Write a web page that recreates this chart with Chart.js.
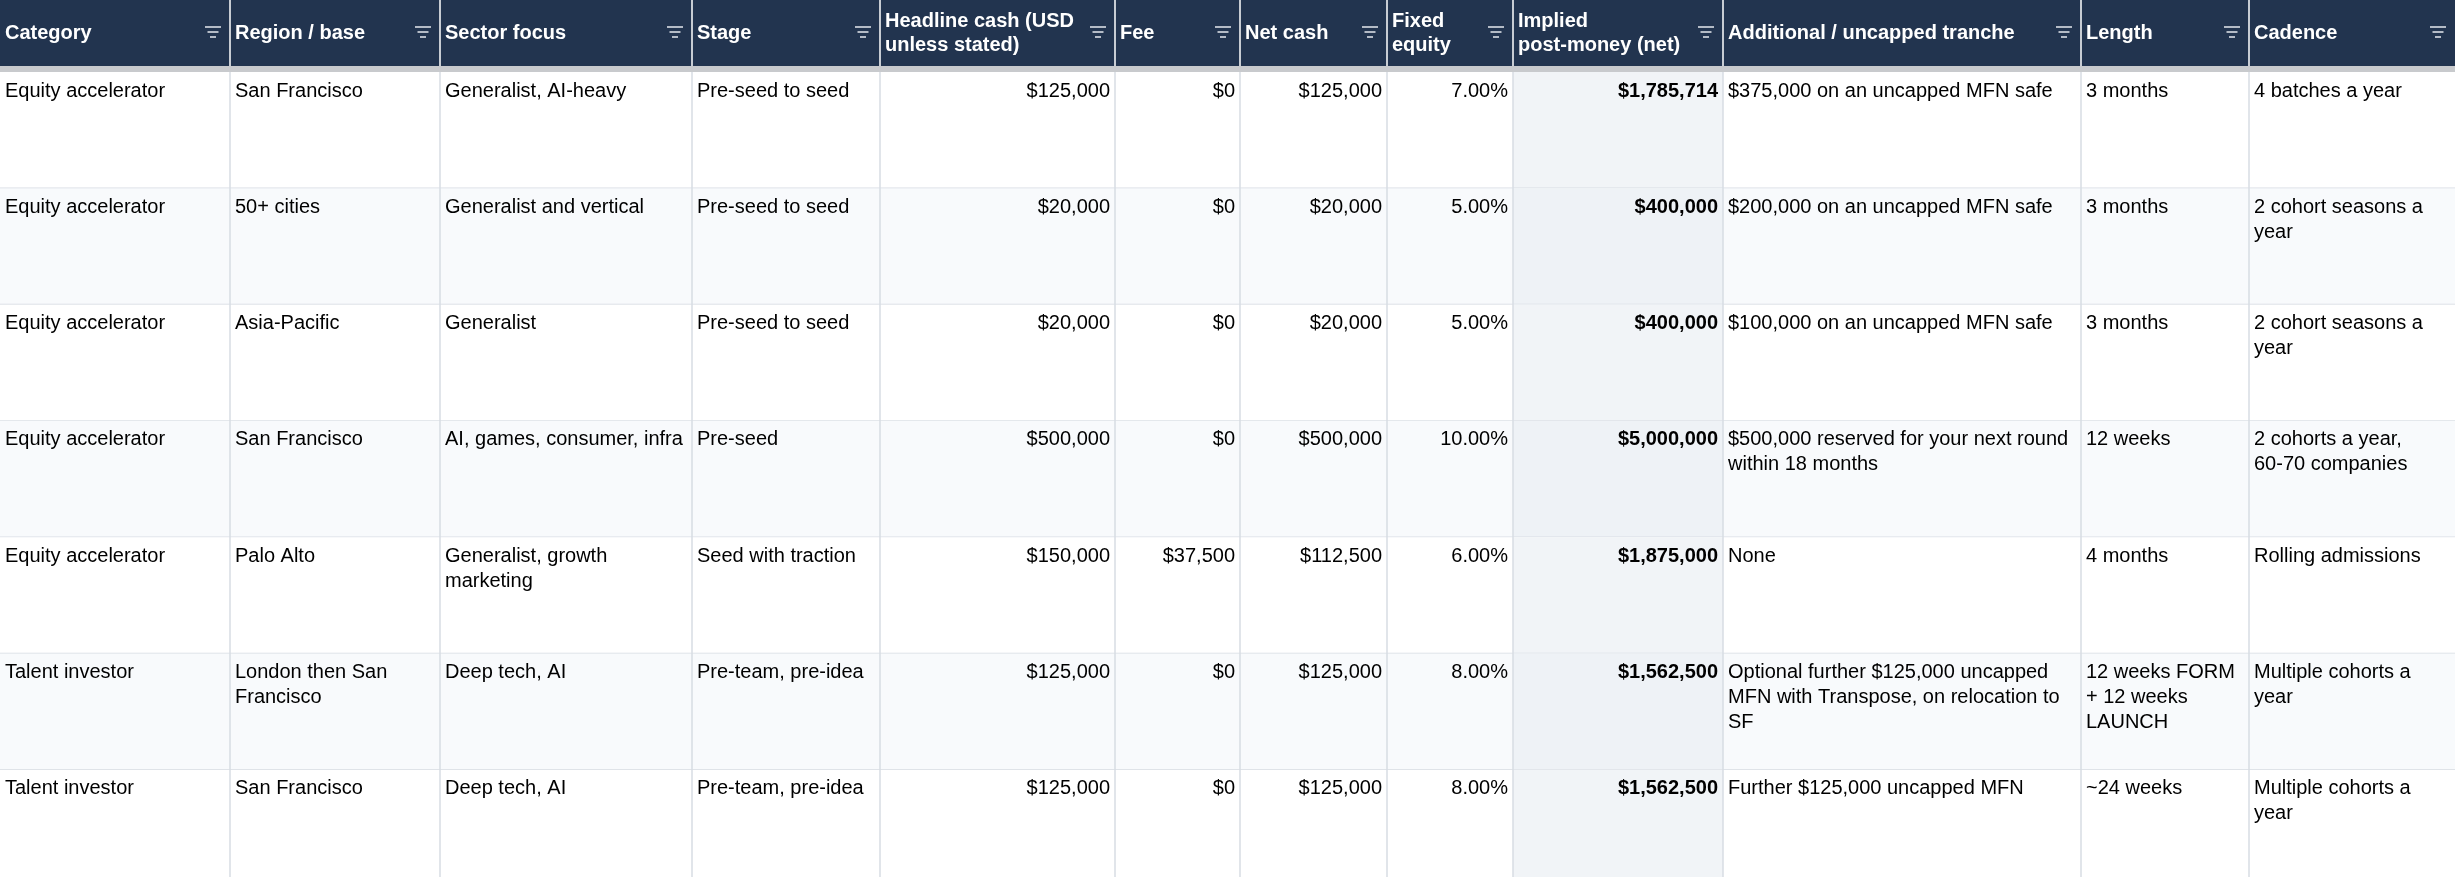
<!DOCTYPE html>
<html>
<head>
<meta charset="utf-8">
<script src="https://cdn.jsdelivr.net/npm/chart.js@4"></script>
<style>
  html, body { margin: 0; padding: 0; background: #fff; }
  #wrap { width: 2455px; height: 877px; }
</style>
</head>
<body>
<div id="wrap"><canvas id="tbl"></canvas></div>
<script>
// Dữ liệu bảng
const headers = ['Category', 'Region / base', 'Sector focus', 'Stage', 'Headline cash (USD\nunless stated)', 'Fee', 'Net cash', 'Fixed\nequity', 'Implied\npost-money (net)', 'Additional / uncapped tranche', 'Length', 'Cadence'];
const categories = ['Equity accelerator', 'Equity accelerator', 'Equity accelerator', 'Equity accelerator', 'Equity accelerator', 'Talent investor', 'Talent investor'];
const regions = ['San Francisco', '50+ cities', 'Asia-Pacific', 'San Francisco', 'Palo Alto', 'London then San Francisco', 'San Francisco'];
const sectors = ['Generalist, AI-heavy', 'Generalist and vertical', 'Generalist', 'AI, games, consumer, infra', 'Generalist, growth marketing', 'Deep tech, AI', 'Deep tech, AI'];
const stages = ['Pre-seed to seed', 'Pre-seed to seed', 'Pre-seed to seed', 'Pre-seed', 'Seed with traction', 'Pre-team, pre-idea', 'Pre-team, pre-idea'];
const headlineCash = [125000, 20000, 20000, 500000, 150000, 125000, 125000];
const fees = [0, 0, 0, 0, 37500, 0, 0];
const netCash = [125000, 20000, 20000, 500000, 112500, 125000, 125000];
const fixedEquity = [7, 5, 5, 10, 6, 8, 8];
const postMoney = [1785714, 400000, 400000, 5000000, 1875000, 1562500, 1562500];
const tranches = ['$375,000 on an uncapped MFN safe', '$200,000 on an uncapped MFN safe', '$100,000 on an uncapped MFN safe', '$500,000 reserved for your next round within 18 months', 'None', 'Optional further $125,000 uncapped MFN with Transpose, on relocation to SF', 'Further $125,000 uncapped MFN'];
const lengths = ['3 months', '3 months', '3 months', '12 weeks', '4 months', '12 weeks FORM + 12 weeks LAUNCH', '~24 weeks'];
const cadences = ['4 batches a year', '2 cohort seasons a year', '2 cohort seasons a year', '2 cohorts a year,\n60-70 companies', 'Rolling admissions', 'Multiple cohorts a year', 'Multiple cohorts a year'];

// Bố cục
const colEdges = [0, 230, 440, 692, 880, 1115, 1240, 1387, 1513, 1723, 2081, 2249, 2455];
const headerH = 66, bandH = 6, rowH = 116.3;
const usd = v => '$' + v.toLocaleString('en-US');

function cellsFor(i) {
  return [
    { t: categories[i] }, { t: regions[i] }, { t: sectors[i] }, { t: stages[i] },
    { t: usd(headlineCash[i]), r: true }, { t: usd(fees[i]), r: true }, { t: usd(netCash[i]), r: true },
    { t: fixedEquity[i].toFixed(2) + '%', r: true }, { t: usd(postMoney[i]), r: true, b: true },
    { t: tranches[i] }, { t: lengths[i] }, { t: cadences[i] }
  ];
}

function wrap(ctx, text, maxW) {
  const out = [];
  text.split('\n').forEach(par => {
    let line = '';
    par.split(' ').forEach(w => {
      const test = line ? line + ' ' + w : w;
      if (ctx.measureText(test).width > maxW && line) { out.push(line); line = w; }
      else line = test;
    });
    out.push(line);
  });
  return out;
}

const tablePlugin = {
  id: 'tablePlugin',
  afterDraw(chart) {
    const ctx = chart.ctx, xs = chart.scales.x, ys = chart.scales.y;
    const X = v => xs.getPixelForValue(v), Y = v => ys.getPixelForValue(v);
    ctx.save();
    // body rows
    categories.forEach((c, i) => {
      const top = headerH + bandH + i * rowH;
      ctx.fillStyle = i % 2 ? '#f8fafc' : '#ffffff';
      ctx.fillRect(X(0), Y(top), X(2455) - X(0), Y(top + rowH) - Y(top));
      ctx.fillStyle = i % 2 ? '#eef2f6' : '#f1f4f7';
      ctx.fillRect(X(colEdges[8]), Y(top), X(colEdges[9]) - X(colEdges[8]), Y(top + rowH) - Y(top));
      const cells = cellsFor(i);
      cells.forEach((cell, j) => {
        ctx.font = (cell.b ? 'bold ' : '') + '20px "Liberation Sans", Arial, sans-serif';
        ctx.fillStyle = '#000';
        ctx.textBaseline = 'top';
        const x0 = X(colEdges[j]), x1 = X(colEdges[j + 1]);
        const lines = wrap(ctx, cell.t, x1 - x0 - 10);
        lines.forEach((ln, k) => {
          const y = Y(top + 9 + k * 25);
          if (cell.r) { ctx.textAlign = 'right'; ctx.fillText(ln, x1 - 5, y); }
          else { ctx.textAlign = 'left'; ctx.fillText(ln, x0 + 5, y); }
        });
      });
      ctx.strokeStyle = '#d7dce3'; ctx.lineWidth = 1.5;
      ctx.beginPath(); ctx.moveTo(X(0), Y(top + rowH)); ctx.lineTo(X(2455), Y(top + rowH)); ctx.stroke();
    });
    // vertical grid
    ctx.strokeStyle = '#d7dce3'; ctx.lineWidth = 1.5;
    colEdges.slice(1, -1).forEach(e => {
      ctx.beginPath(); ctx.moveTo(X(e), Y(headerH)); ctx.lineTo(X(e), Y(877)); ctx.stroke();
    });
    // header
    ctx.fillStyle = '#22344f';
    ctx.fillRect(X(0), Y(0), X(2455) - X(0), Y(headerH) - Y(0));
    ctx.fillStyle = '#c8cacd';
    ctx.fillRect(X(0), Y(headerH), X(2455) - X(0), Y(headerH + bandH) - Y(headerH));
    ctx.font = 'bold 20px "Liberation Sans", Arial, sans-serif';
    ctx.textBaseline = 'middle'; ctx.textAlign = 'left';
    headers.forEach((h, j) => {
      const x0 = X(colEdges[j]), x1 = X(colEdges[j + 1]);
      const lines = h.split('\n');
      ctx.fillStyle = '#fff';
      lines.forEach((ln, k) => {
        const cy = lines.length === 1 ? 33 : 21 + k * 24;
        ctx.fillText(ln, x0 + 5, Y(cy));
      });
      // filter icon
      ctx.strokeStyle = '#e6e9ee'; ctx.lineWidth = 1.5;
      const ix = x1 - 17;
      [[8, 27], [5.5, 32], [3, 37]].forEach(([hw, y]) => {
        ctx.beginPath(); ctx.moveTo(ix - hw, Y(y)); ctx.lineTo(ix + hw, Y(y)); ctx.stroke();
      });
      if (j > 0) {
        ctx.strokeStyle = '#ffffff'; ctx.lineWidth = 1.5;
        ctx.beginPath(); ctx.moveTo(x0, Y(0)); ctx.lineTo(x0, Y(headerH)); ctx.stroke();
      }
    });
    ctx.restore();
  }
};

document.addEventListener('DOMContentLoaded', function() {
  new Chart(document.getElementById('tbl'), {
    type: 'scatter',
    data: { datasets: [{ data: [], pointRadius: 0 }] },
    options: {
      responsive: true,
      maintainAspectRatio: false,
      animation: false,
      layout: { padding: 0 },
      plugins: { legend: { display: false }, tooltip: { enabled: false } },
      scales: {
        x: { type: 'linear', min: 0, max: 2455, display: false },
        y: { type: 'linear', min: 0, max: 877, reverse: true, display: false }
      }
    },
    plugins: [tablePlugin]
  });
});
</script>
</body>
</html>
